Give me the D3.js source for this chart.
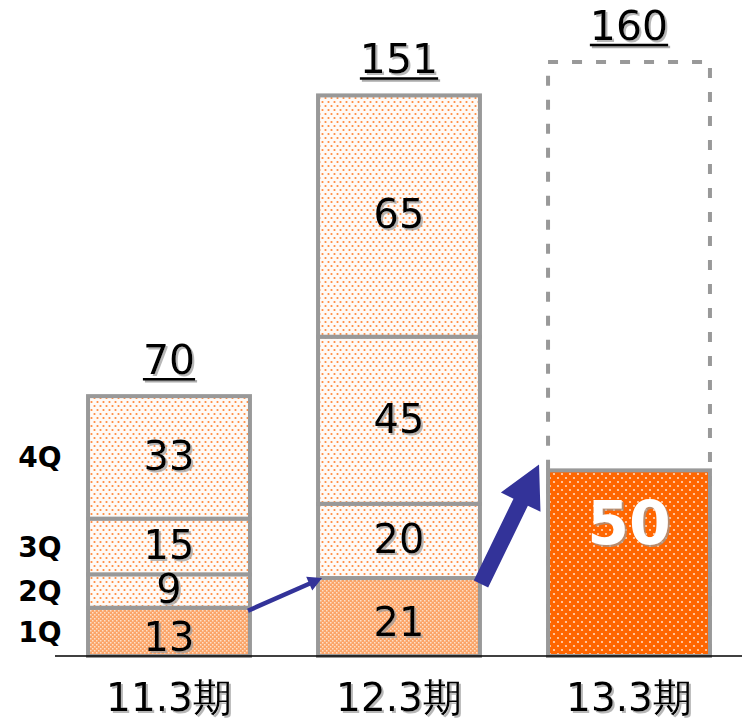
<!DOCTYPE html>
<html><head><meta charset="utf-8">
<script src="https://cdn.jsdelivr.net/npm/d3@7"></script>
<style>html,body{margin:0;padding:0;background:#fff;}</style>
</head><body>
<svg id="c" width="742" height="721"></svg>
<script>
const categories = ["11.3期", "12.3期", "13.3期"];
const quarters = ["1Q", "2Q", "3Q", "4Q"];
const q1 = [13, 21, 50];
const q2 = [9, 20, null];
const q3 = [15, 45, null];
const q4 = [33, 65, null];
const totals = [70, 151, 160];

const svg = d3.select("#c");
const defs = svg.append("defs");

// patterns
const pLight = defs.append("pattern").attr("id","pLight").attr("patternUnits","userSpaceOnUse").attr("width",6).attr("height",8);
pLight.append("rect").attr("width",6).attr("height",8).attr("fill","#fffaf6");
pLight.append("circle").attr("cx",1.5).attr("cy",2).attr("r",1.1).attr("fill","#ff8a3d");
pLight.append("circle").attr("cx",4.5).attr("cy",6).attr("r",1.1).attr("fill","#ff8a3d");

const pQ1 = defs.append("pattern").attr("id","pQ1").attr("patternUnits","userSpaceOnUse").attr("width",4).attr("height",4);
pQ1.append("rect").attr("width",4).attr("height",4).attr("fill","#fba468");
pQ1.append("rect").attr("x",0).attr("y",0).attr("width",1.5).attr("height",1.5).attr("fill","#fde0c8");
pQ1.append("rect").attr("x",2).attr("y",2).attr("width",1.5).attr("height",1.5).attr("fill","#fde0c8");

const pDark = defs.append("pattern").attr("id","pDark").attr("patternUnits","userSpaceOnUse").attr("width",8).attr("height",8);
pDark.append("rect").attr("width",8).attr("height",8).attr("fill","#ff6600");
pDark.append("circle").attr("cx",2).attr("cy",2).attr("r",1.1).attr("fill","#ffd9bf");
pDark.append("circle").attr("cx",6).attr("cy",6).attr("r",1.1).attr("fill","#ffd9bf");

const f = defs.append("filter").attr("id","sh").attr("x","-10%").attr("y","-10%").attr("width","130%").attr("height","130%");
f.append("feDropShadow").attr("dx",2).attr("dy",2).attr("stdDeviation",0.6).attr("flood-color","#999").attr("flood-opacity",0.7);

const x = d3.scaleBand().domain(categories).range([54, 744]).paddingInner(0.296).paddingOuter(0.148);
const y = d3.scaleLinear().domain([0, 160]).range([656, 62]);
const bw = x.bandwidth();

const series = [q1, q2, q3, q4];
const stackData = categories.map((c, i) => {
  let acc = 0;
  return series.map((s, k) => {
    const v = s[i];
    if (v == null) return null;
    const seg = {cat: c, i, k, v, y0: acc, y1: acc + v};
    acc += v;
    return seg;
  }).filter(d => d);
});

const font = "'DejaVu Sans', Verdana, sans-serif";

// dashed forecast outline (13.3 total)
svg.append("rect")
  .attr("x", x(categories[2])).attr("y", y(totals[2]))
  .attr("width", bw).attr("height", y(0) - y(totals[2]))
  .attr("fill", "#fff").attr("stroke", "#999").attr("stroke-width", 4)
  .attr("stroke-dasharray", "10,14");

// segments
const segs = stackData.flat();
svg.selectAll("rect.seg").data(segs).enter().append("rect")
  .attr("class","seg")
  .attr("x", d => x(d.cat)).attr("y", d => y(d.y1))
  .attr("width", bw).attr("height", d => y(d.y0) - y(d.y1))
  .attr("fill", d => d.i === 2 ? "url(#pDark)" : (d.k === 0 ? "url(#pQ1)" : "url(#pLight)"))
  .attr("stroke", "#999").attr("stroke-width", 4);

// segment labels
svg.selectAll("text.seg").data(segs).enter().append("text")
  .attr("x", d => x(d.cat) + bw / 2)
  .attr("y", d => d.i === 2 ? y(d.y1) + 74 : (y(d.y0) + y(d.y1)) / 2 + (d.k === 0 ? 5 : -2))
  .attr("dy", d => d.i === 2 ? 0 : "0.36em")
  .attr("text-anchor", "middle")
  .attr("font-family", font)
  .attr("font-size", d => d.i === 2 ? 60 : 40)
  .attr("font-weight", d => d.i === 2 ? "bold" : "normal")
  .attr("fill", d => d.i === 2 ? "#fff" : "#000")
  .attr("filter", "url(#sh)")
  .text(d => d.v);

// totals with underline
totals.forEach((t, i) => {
  const cx = x(categories[i]) + bw / 2;
  const by = y(t) - 22;
  const tx = svg.append("text").attr("x", cx).attr("y", by)
    .attr("text-anchor","middle").attr("font-family", font).attr("font-size", 41)
    .attr("fill","#000").attr("filter","url(#sh)").text(t);
  const w = tx.node().getComputedTextLength();
  svg.append("line").attr("x1", cx - w/2 + 2).attr("x2", cx + w/2 + 2)
    .attr("y1", by + 7).attr("y2", by + 7).attr("stroke","#aaa").attr("stroke-width",2.5);
  svg.append("line").attr("x1", cx - w/2).attr("x2", cx + w/2)
    .attr("y1", by + 5).attr("y2", by + 5).attr("stroke","#000").attr("stroke-width",2.5);
});

// baseline axis
svg.append("line").attr("x1", 55).attr("x2", 742).attr("y1", y(0)).attr("y2", y(0))
  .attr("stroke", "#000").attr("stroke-width", 1.5);

// category labels
svg.selectAll("text.cat").data(categories).enter().append("text")
  .attr("x", d => x(d) + bw / 2).attr("y", 711)
  .attr("text-anchor","middle").attr("font-family", font).attr("font-size", 39)
  .attr("fill","#000").attr("filter","url(#sh)").text(d => d);

// quarter labels from first bar
svg.selectAll("text.q").data(stackData[0]).enter().append("text")
  .attr("x", 40).attr("y", d => (y(d.y0) + y(d.y1)) / 2)
  .attr("dy", "0.36em")
  .attr("text-anchor","middle").attr("font-family", font).attr("font-size", 28)
  .attr("font-weight","bold").attr("fill","#000")
  .text(d => quarters[d.k]);

// arrows
function arrow(x0, y0, x1, y1, sw, hl, hw) {
  const dx = x1 - x0, dy = y1 - y0, L = Math.hypot(dx, dy);
  const ux = dx / L, uy = dy / L, nx = -uy, ny = ux;
  const bx = x1 - ux * hl, by = y1 - uy * hl;
  const pts = [
    [x0 + nx * sw/2, y0 + ny * sw/2],
    [bx + nx * sw/2, by + ny * sw/2],
    [bx + nx * hw/2, by + ny * hw/2],
    [x1, y1],
    [bx - nx * hw/2, by - ny * hw/2],
    [bx - nx * sw/2, by - ny * sw/2],
    [x0 - nx * sw/2, y0 - ny * sw/2]
  ];
  svg.append("polygon").attr("points", pts.map(p => p.join(",")).join(" "))
    .attr("fill", "#333399");
}
arrow(x(categories[0]) + bw - 2, y(q1[0]) + 3, x(categories[1]) + 4, y(q1[1]), 4.5, 14, 15);
arrow(x(categories[1]) + bw + 1, y(q1[1]) + 6, x(categories[2]) - 9, y(q1[2]) - 6, 16, 42, 44);
</script>
</body></html>
